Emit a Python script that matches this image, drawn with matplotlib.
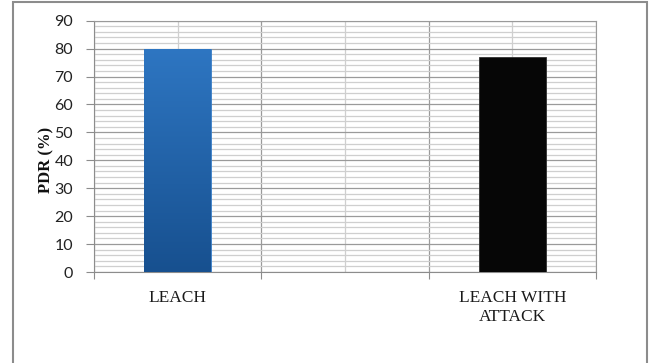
import matplotlib
matplotlib.use("Agg")
import matplotlib.pyplot as plt
import numpy as np
from matplotlib.patches import Rectangle
from matplotlib.colors import LinearSegmentedColormap

categories = ["LEACH", "LEACH WITH\nATTACK"]
pdr_values = [80, 77]
y_ticks = [0, 10, 20, 30, 40, 50, 60, 70, 80, 90]

fig = plt.figure(figsize=(6.51, 3.63), dpi=100)
# chart-area border
fig.patches.append(Rectangle((13/651, -0.01), (647-13)/651, 1 - 2/363 + 0.01,
                             transform=fig.transFigure, fill=False,
                             edgecolor="#8c8c8c", linewidth=1.5))
ax = fig.add_axes([94/651, 1-272/363, (596-94)/651, (272-20.7)/363])

positions = [1, 5]
bars = ax.bar(positions, pdr_values, width=0.8, color=["#2a6fb8", "#060606"],
              edgecolor=["#3a7fc8", "#303030"], linewidth=0.6, zorder=3)

# gradient for first bar
b = bars[0]
grad = np.linspace(0, 1, 256).reshape(-1, 1)
cmap = LinearSegmentedColormap.from_list("g", ["#17508f", "#2e76c2"])
im = ax.imshow(grad, cmap=cmap, origin="lower", aspect="auto",
               extent=[b.get_x(), b.get_x() + b.get_width(), 0, b.get_height()],
               zorder=3.5)
im.set_clip_path(b)

ax.set_xlim(0, 6)
ax.set_ylim(0, 90)
ax.set_yticks(y_ticks)
ax.set_yticks(np.arange(0, 91, 2), minor=True)
ax.set_xticks([0, 2, 4, 6])
ax.set_xticks([1, 3, 5], minor=True)
ax.set_xticklabels([])
for p, c in zip(positions, categories):
    ax.text(p, -6.6, c, ha="center", va="top", fontsize=12.5,
            family="Liberation Serif", color="#1a1a1a", linespacing=1.25)

ax.grid(which="major", axis="both", color="#9a9a9a", linewidth=0.9, zorder=0)
ax.grid(which="minor", axis="both", color="#cfcfcf", linewidth=0.9, zorder=0)
ax.set_axisbelow(True)

for s in ["top", "right"]:
    ax.spines[s].set_color("#9a9a9a")
for s in ["left", "bottom"]:
    ax.spines[s].set_color("#8c8c8c")

ax.tick_params(axis="y", which="major", length=6, color="#8c8c8c",
               labelsize=11.5, labelcolor="#222222", pad=9)
ax.tick_params(axis="y", which="minor", length=0)
ax.tick_params(axis="x", which="major", length=5, color="#8c8c8c")
ax.tick_params(axis="x", which="minor", length=0)
for lbl in ax.get_yticklabels():
    lbl.set_family("Lato")

fig.text(46/651, 1-160/363, "PDR (%)", rotation=90, ha="center", va="center",
         fontsize=12, fontweight="bold", family="Liberation Serif", color="#111111")

fig.savefig("out.png", dpi=100)
